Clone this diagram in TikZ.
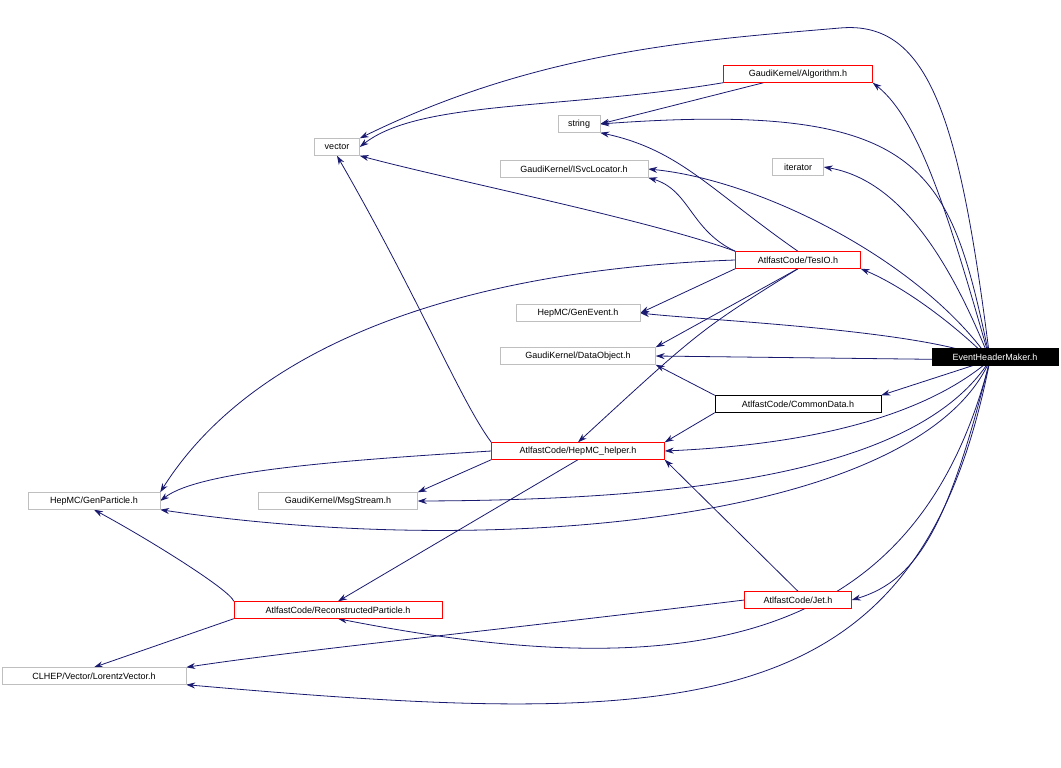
\documentclass[tikz,border=0pt]{standalone}
\usepackage{fontspec}
\setmainfont{Liberation Sans}
\usetikzlibrary{arrows.meta,backgrounds}
\definecolor{edgeblue}{HTML}{191970}
\definecolor{boxgray}{HTML}{BFBFBF}
\tikzset{
  file/.style={draw=boxgray, fill=white, minimum height=17pt, inner sep=1pt, font=\fontsize{9}{10}\selectfont},
  redfile/.style={file, draw=red},
  incl/.style={draw=edgeblue, line width=0.8pt, -{Stealth[length=9pt,width=6pt]}},
}
\begin{document}
\begin{tikzpicture}[x=1pt, y=-1pt]
  \useasboundingbox (0,0) rectangle (1061,768);

        % included files
        \node[file, fill=black, text=white, draw=black, minimum width=126pt] (ehm) at (995,357) {EventHeaderMaker.h};
        \node[redfile, minimum width=149pt] (alg) at (798,74) {GaudiKernel/Algorithm.h};
        \node[file, minimum width=42pt] (str) at (579,124) {string};
        \node[file, minimum width=45pt] (vec) at (337,147) {vector};
        \node[file, minimum width=148pt] (svc) at (574,169) {GaudiKernel/ISvcLocator.h};
        \node[file, minimum width=51pt] (iter) at (798,167) {iterator};
        \node[redfile, minimum width=125pt] (tes) at (798,260) {AtlfastCode/TesIO.h};
        \node[file, minimum width=124pt] (gev) at (578,313) {HepMC/GenEvent.h};
        \node[file, minimum width=155pt] (dobj) at (578,356) {GaudiKernel/DataObject.h};
        \node[file, draw=black, minimum width=166pt] (cdat) at (798,404) {AtlfastCode/CommonData.h};
        \node[redfile, minimum width=173pt] (help) at (578,451) {AtlfastCode/HepMC\_helper.h};
        \node[file, minimum width=132pt] (gpart) at (94,501) {HepMC/GenParticle.h};
        \node[file, minimum width=159pt] (msg) at (338,501) {GaudiKernel/MsgStream.h};
        \node[redfile, minimum width=208pt] (reco) at (338,610) {AtlfastCode/ReconstructedParticle.h};
        \node[redfile, minimum width=107pt] (jet) at (798,600) {AtlfastCode/Jet.h};
        \node[file, minimum width=184pt] (lor) at (94,676) {CLHEP/Vector/LorentzVector.h};

        \coordinate (eo) at (990,360);

        \begin{scope}[on background layer]
        % 1) from EventHeaderMaker.h
        \draw[incl] (eo) .. controls (960,120) and (930,20) .. (840,28) .. controls (700,40) and (540,50) .. (vec.north east);
        \draw[incl] (eo) .. controls (950,220) and (920,120) .. (alg.south east);
        \draw[incl] (eo) .. controls (950,170) and (930,100) .. (str.east);
        \draw[incl] (eo) .. controls (950,260) and (900,180) .. (iter.east);
        \draw[incl] (eo) .. controls (920,260) and (760,180) .. (svc.east);
        \draw[incl] (eo) .. controls (950,320) and (900,285) .. (tes.south east);
        \draw[incl] (eo) .. controls (930,330) and (700,320) .. (gev.east);
        \draw[incl] (eo) -- (dobj.east);
        \draw[incl] (eo) -- (cdat.north east);
        \draw[incl] (eo) .. controls (920,420) and (800,445) .. (help.east);
        \draw[incl] (eo) .. controls (920,470) and (700,500) .. (msg.east);
        \draw[incl] (eo) .. controls (920,520) and (500,560) .. (gpart.south east);
        \draw[incl] (eo) .. controls (950,520) and (920,580) .. (jet.east);
        \draw[incl] (eo) .. controls (920,640) and (700,690) .. (reco.south);
        \draw[incl] (eo) .. controls (920,720) and (700,730) .. (lor.south east);

        % 2) from Algorithm.h
        \draw[incl] (alg) -- (str.east);
        \draw[incl] (alg.south west) .. controls (560,110) and (420,100) .. (vec.east);

        % 3) from TesIO.h
        \draw[incl] (tes.north west) .. controls (650,220) and (450,180) .. (vec.south east);
        \draw[incl] (tes.north) .. controls (710,190) and (680,150) .. (str.south east);
        \draw[incl] (tes.north west) .. controls (690,230) and (690,190) .. (svc.south east);
        \draw[incl] (tes.west) .. controls (450,270) and (250,350) .. (gpart.north east);
        \draw[incl] (tes.south west) -- (gev.east);
        \draw[incl] (tes.south) -- (dobj.north east);
        \draw[incl] (tes.south) .. controls (700,330) .. (help.north);

        % 4) from CommonData.h
        \draw[incl] (cdat.north west) -- (dobj.south east);
        \draw[incl] (cdat.south west) -- (help.north east);

        % 5) from HepMC_helper.h
        \draw[incl] (help.north west) .. controls (460,400) and (420,300) .. (vec.south);
        \draw[incl] (help.west) .. controls (350,460) and (200,470) .. (gpart.east);
        \draw[incl] (help.south west) -- (msg.north east);
        \draw[incl] (help.south) -- (reco.north);

        % 6) from Jet.h and ReconstructedParticle.h
        \draw[incl] (jet.north) -- (help.south east);
        \draw[incl] (jet.west) .. controls (500,630) and (300,650) .. (lor.north east);
        \draw[incl] (reco.north west) .. controls (230,590) and (150,540) .. (gpart.south);
        \draw[incl] (reco.south west) -- (lor.north);
        \end{scope}

\end{tikzpicture}
\end{document}
